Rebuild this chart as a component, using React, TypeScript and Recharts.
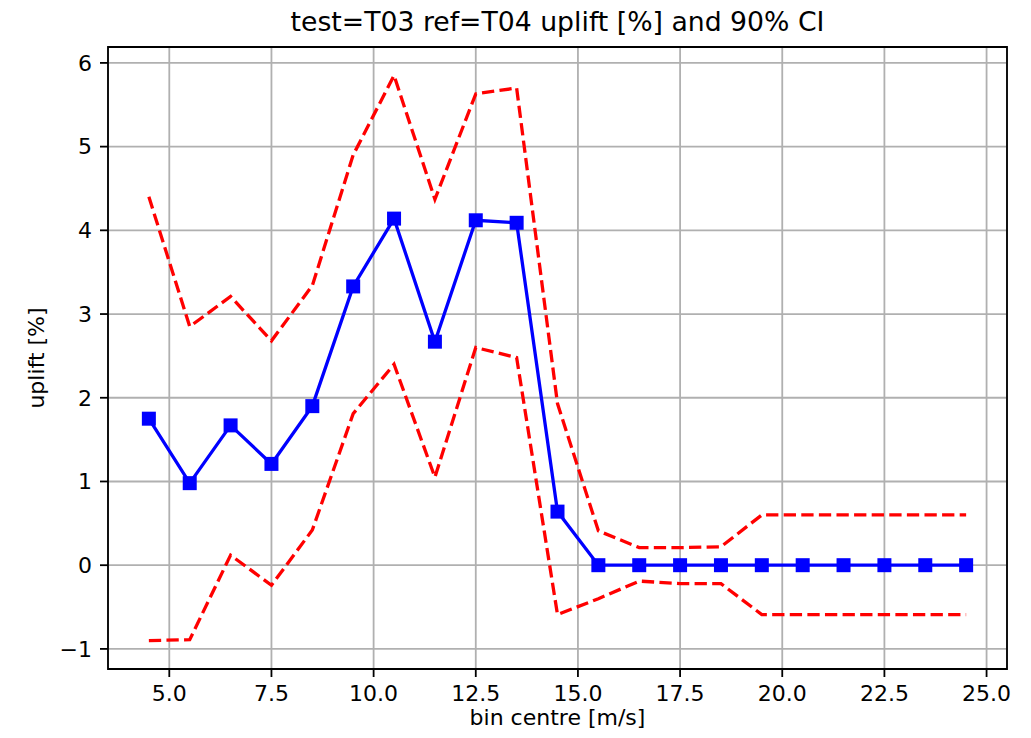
import React from 'react';
import { LineChart, Line, XAxis, YAxis, CartesianGrid, ReferenceArea } from 'recharts';

const binCentres = [4.5, 5.5, 6.5, 7.5, 8.5, 9.5, 10.5, 11.5, 12.5, 13.5, 14.5, 15.5, 16.5, 17.5, 18.5, 19.5, 20.5, 21.5, 22.5, 23.5, 24.5];
const uplift = [1.75, 0.98, 1.67, 1.21, 1.9, 3.33, 4.14, 2.67, 4.12, 4.09, 0.64, 0, 0, 0, 0, 0, 0, 0, 0, 0, 0];
const ciUpper = [4.4, 2.85, 3.21, 2.68, 3.34, 4.9, 5.85, 4.37, 5.63, 5.7, 1.93, 0.41, 0.21, 0.21, 0.22, 0.6, 0.6, 0.6, 0.6, 0.6, 0.6];
const ciLower = [-0.9, -0.89, 0.12, -0.24, 0.42, 1.81, 2.4, 1.05, 2.6, 2.48, -0.59, -0.4, -0.19, -0.22, -0.22, -0.59, -0.59, -0.59, -0.59, -0.59, -0.59];
const xTicks = [5, 7.5, 10, 12.5, 15, 17.5, 20, 22.5, 25];
const yTicks = [-1, 0, 1, 2, 3, 4, 5, 6];
const xDomain = [3.5, 25.5];
const yDomain = [-1.24, 6.19];

const title = 'test=T03 ref=T04 uplift [%] and 90% CI';
const xLabel = 'bin centre [m/s]';
const yLabel = 'uplift [%]';

const data = binCentres.map((x, i) => ({ x, uplift: uplift[i], upper: ciUpper[i], lower: ciLower[i] }));

const FONT = "'DejaVu Sans', sans-serif";

const SquareDot = (props: any) => {
  const { cx, cy } = props;
  if (cx == null || cy == null) return null;
  const s = 14;
  return <rect x={cx - s / 2} y={cy - s / 2} width={s} height={s} fill="#0000ff" stroke="#0000ff" strokeWidth={0} />;
};

const fmtY = (v: number) => (v < 0 ? '\u2212' + Math.abs(v) : String(v));
const fmtX = (v: number) => v.toFixed(1);

export default function App() {
  return (
    <div style={{ position: 'absolute', left: 0, top: 0, width: 1031, height: 738, background: '#fff', fontFamily: FONT }}>
      <LineChart width={1031} height={738} data={data} margin={{ top: 47, right: 24, left: 0, bottom: 0 }}>
        <CartesianGrid stroke="#b0b0b0" strokeWidth={1.8} />
        <XAxis
          dataKey="x"
          type="number"
          domain={xDomain}
          ticks={xTicks}
          tickFormatter={fmtX}
          allowDataOverflow
          height={69}
          axisLine={false}
          tickSize={8}
          tickMargin={8}
          tickLine={{ stroke: '#000', strokeWidth: 1.8 }}
          tick={{ fill: '#000', fontSize: 22, fontFamily: FONT }}
        />
        <YAxis
          type="number"
          domain={yDomain}
          ticks={yTicks}
          tickFormatter={fmtY}
          allowDataOverflow
          width={108}
          axisLine={false}
          tickSize={8}
          tickMargin={8}
          tickLine={{ stroke: '#000', strokeWidth: 1.8 }}
          tick={{ fill: '#000', fontSize: 22, fontFamily: FONT }}
        />
        <ReferenceArea
          x1={xDomain[0]}
          x2={xDomain[1]}
          y1={yDomain[0]}
          y2={yDomain[1]}
          fill="none"
          fillOpacity={0}
          stroke="#000"
          strokeWidth={1.8}
          ifOverflow="visible"
        />
        <Line
          dataKey="uplift"
          type="linear"
          stroke="#0000ff"
          strokeWidth={3.3}
          dot={<SquareDot />}
          activeDot={false}
          isAnimationActive={false}
        />
        <Line
          dataKey="lower"
          type="linear"
          stroke="#ff0000"
          strokeWidth={3.3}
          strokeDasharray="12.3 5.3"
          dot={false}
          activeDot={false}
          isAnimationActive={false}
        />
        <Line
          dataKey="upper"
          type="linear"
          stroke="#ff0000"
          strokeWidth={3.3}
          strokeDasharray="12.3 5.3"
          dot={false}
          activeDot={false}
          isAnimationActive={false}
        />
      </LineChart>
      <div
        style={{
          position: 'absolute',
          left: 108,
          width: 899,
          top: 4,
          textAlign: 'center',
          fontSize: 26.7,
          lineHeight: '36px',
          color: '#000',
          whiteSpace: 'nowrap',
        }}
      >
        {title}
      </div>
      <div
        style={{
          position: 'absolute',
          left: 108,
          width: 899,
          top: 703,
          textAlign: 'center',
          fontSize: 22,
          lineHeight: '30px',
          color: '#000',
          whiteSpace: 'nowrap',
        }}
      >
        {xLabel}
      </div>
      <div
        style={{
          position: 'absolute',
          left: 37 - 100,
          top: 358 - 15,
          width: 200,
          height: 30,
          lineHeight: '30px',
          textAlign: 'center',
          fontSize: 22,
          color: '#000',
          transform: 'rotate(-90deg)',
          transformOrigin: '100px 15px',
          whiteSpace: 'nowrap',
        }}
      >
        {yLabel}
      </div>
    </div>
  );
}
